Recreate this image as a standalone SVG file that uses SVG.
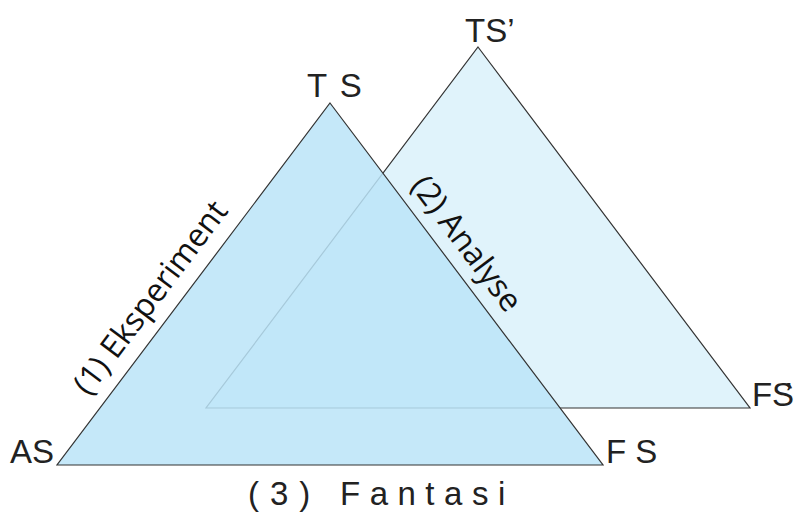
<svg xmlns="http://www.w3.org/2000/svg" width="801" height="513" viewBox="0 0 801 513">
<style>
.lbl{font-family:"Liberation Sans",Arial,sans-serif;font-size:33px;fill:#222}
.side{font-family:"Open Sans","Noto Sans",sans-serif;font-size:32px;fill:#111}
.tri{stroke:#333;stroke-width:1.2;stroke-linejoin:miter}
</style>
<rect width="801" height="513" fill="#fff"/>
<g id="triangle-back">
<polygon class="tri" points="478,47 750,408 206,408" fill="#E0F3FB"/>
</g>
<g id="triangle-front">
<polygon class="tri" points="330,103 603,465 57,465" fill="#BBE4F8" fill-opacity="0.85"/>
</g>
<g id="connectors">
<text class="side" text-anchor="middle" transform="translate(159,304) rotate(-53)">(1) Eksperiment</text>
<text class="side" text-anchor="middle" transform="translate(458,250) rotate(53)">(2) Analyse</text>
<text class="lbl" y="505"><tspan x="248" letter-spacing="11">(3)</tspan><tspan x="340" letter-spacing="9.5">Fantasi</tspan></text>
</g>
<g id="labels">
<text class="lbl" x="307" y="97" letter-spacing="2">T S</text>
<text class="lbl" x="465" y="42">TS’</text>
<text class="lbl" x="10" y="463">AS</text>
<text class="lbl" x="606" y="463">F S</text>
<text class="lbl" x="752" y="406">F<tspan x="772">S</tspan><tspan dx="-9">’</tspan></text>
</g>
</svg>
